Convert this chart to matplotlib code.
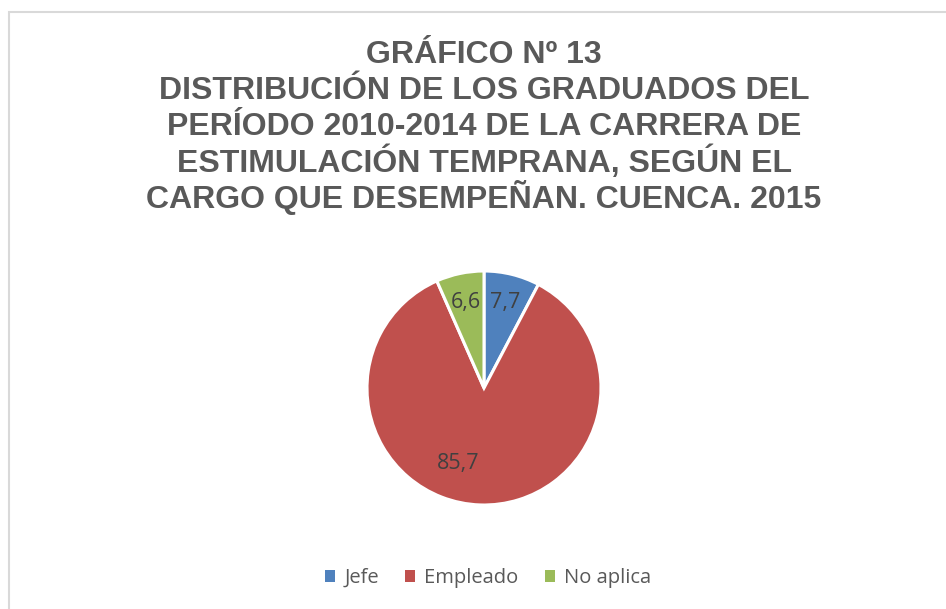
import numpy as np
import matplotlib
matplotlib.use("Agg")
import matplotlib.pyplot as plt
from matplotlib.patches import Rectangle

categorias = ['Jefe', 'Empleado', 'No aplica']
porcentajes = [7.7, 85.7, 6.6]
etiquetas = ['7,7', '85,7', '6,6']
colores = ['#4F81BD', '#C0504D', '#9BBB59']
lineas_titulo = ['GRÁFICO Nº 13',
                 'DISTRIBUCIÓN DE LOS GRADUADOS DEL',
                 'PERÍODO 2010-2014 DE LA CARRERA DE',
                 'ESTIMULACIÓN TEMPRANA, SEGÚN EL',
                 'CARGO QUE DESEMPEÑAN. CUENCA. 2015']

W, H = 946, 609
fig = plt.figure(figsize=(W / 100, H / 100), dpi=100)
fig.patch.set_facecolor('white')

# borde del area del grafico (cortado a la derecha y abajo)
fig.patches.append(Rectangle((9 / W, -0.01), 1.0, (H - 12) / H + 0.01,
                             transform=fig.transFigure, fill=False,
                             edgecolor='#D9D9D9', linewidth=1.5))

# titulo, una linea cada vez para controlar el interlineado
for i, linea in enumerate(lineas_titulo):
    base = 63 + i * 36.2
    fig.text(484 / W, 1 - base / H, linea, ha='center', va='baseline',
             fontsize=23, fontweight='bold', color='#595959',
             family='Liberation Sans')

# pie
cx, cy, r = 484, 388, 117
ax = fig.add_axes([(cx - r) / W, (H - cy - r) / H, 2 * r / W, 2 * r / H])
wedges, textos = ax.pie(porcentajes, colors=colores, startangle=90,
                        counterclock=False, radius=1.0,
                        wedgeprops=dict(edgecolor='white', linewidth=2.2))
ax.set_xlim(-1, 1)
ax.set_ylim(-1, 1)
ax.axis('off')

# etiquetas de datos
for w, et, cat in zip(wedges, etiquetas, categorias):
    ang = np.deg2rad((w.theta1 + w.theta2) / 2)
    d = 0.75
    if cat == 'Empleado':
        ang = np.deg2rad(-109)
        d = 0.68
    ax.text(d * np.cos(ang), d * np.sin(ang), et, ha='center', va='center',
            fontsize=15.5, color='#404040', family='Open Sans')

# leyenda
handles = [Rectangle((0, 0), 1, 1, facecolor=c) for c in colores]
fig.legend(handles, categorias, loc='center', bbox_to_anchor=(488 / W, 1 - 578 / H),
           ncol=3, frameon=False, handlelength=0.5, handleheight=0.5,
           handletextpad=0.45, columnspacing=1.3,
           prop=dict(family='Open Sans', size=14.5), labelcolor='#595959')

fig.savefig('out.png', dpi=100)
